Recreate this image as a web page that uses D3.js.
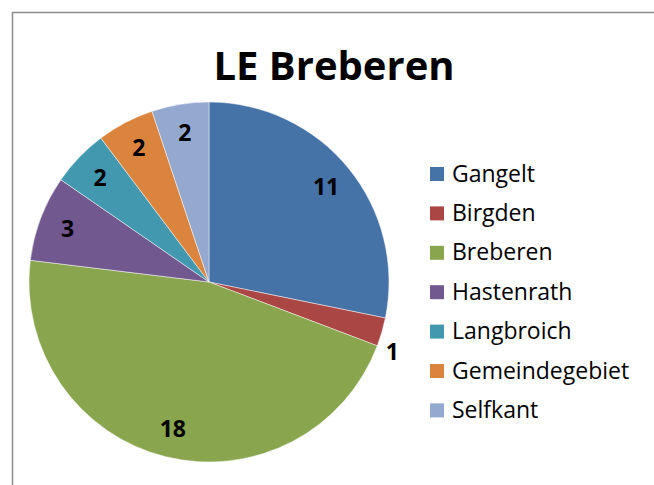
<!DOCTYPE html>
<html>
<head>
<meta charset="utf-8">
<script src="https://cdn.jsdelivr.net/npm/d3@7"></script>
<style>
  body { margin: 0; background: #fff; }
  svg { display: block; }
</style>
</head>
<body>
<div id="chart"></div>
<script>
// places and counts
var places = ["Gangelt", "Birgden", "Breberen", "Hastenrath", "Langbroich", "Gemeindegebiet", "Selfkant"];
var counts = [11, 1, 18, 3, 2, 2, 2];
var colours = ["#4572A7", "#AA4643", "#89A54E", "#71588F", "#4198AF", "#DB843D", "#93A9CF"];

var width = 654, height = 485;
var cx = 209, cy = 282, radius = 180;

var svg = d3.select("#chart")
    .append("svg")
    .attr("width", width)
    .attr("height", height);

svg.append("rect")
    .attr("width", width)
    .attr("height", height)
    .attr("fill", "#fff");

// chart frame, runs off the right and bottom edge
svg.append("rect")
    .attr("x", 12.5)
    .attr("y", 12.5)
    .attr("width", 700)
    .attr("height", 600)
    .attr("fill", "none")
    .attr("stroke", "#8c8c8c")
    .attr("stroke-width", 1.5);

svg.append("text")
    .attr("x", 334)
    .attr("y", 80)
    .attr("text-anchor", "middle")
    .style("font-family", "'Open Sans', sans-serif")
    .style("font-weight", "bold")
    .style("font-size", "40px")
    .style("fill", "#000")
    .text("LE Breberen");

var data = places.map(function(p, i) {
    return { name: p, value: counts[i] };
});

var color = d3.scaleOrdinal().domain(places).range(colours);

var pie = d3.pie()
    .sort(null)
    .value(function(d) { return d.value; });

var arc = d3.arc().innerRadius(0).outerRadius(radius);

var arcs = pie(data);

var g = svg.append("g")
    .attr("transform", "translate(" + cx + "," + cy + ")");

g.selectAll("path")
    .data(arcs)
    .enter().append("path")
    .attr("d", arc)
    .attr("fill", function(d) { return color(d.data.name); })
    .attr("stroke", "#fff")
    .attr("stroke-opacity", 0.6)
    .attr("stroke-width", 0.8);

// labels inside the slice, the tiny one goes outside near its lower end
g.selectAll("text")
    .data(arcs)
    .enter().append("text")
    .attr("transform", function(d) {
        var a, r;
        if (d.value < 2) {
            a = d.endAngle;
            r = radius * 1.09;
        } else {
            a = (d.startAngle + d.endAngle) / 2;
            r = radius * 0.84;
        }
        return "translate(" + (r * Math.sin(a)) + "," + (-r * Math.cos(a)) + ")";
    })
    .attr("dy", "0.36em")
    .attr("text-anchor", "middle")
    .style("font-family", "'Open Sans', sans-serif")
    .style("font-weight", "bold")
    .style("font-size", "23px")
    .style("fill", "#000")
    .text(function(d) { return d.value; });

// legend
var legend = svg.append("g")
    .attr("transform", "translate(430,167)");

var row = legend.selectAll("g")
    .data(places)
    .enter().append("g")
    .attr("transform", function(d, i) { return "translate(0," + (i * 39.4) + ")"; });

row.append("rect")
    .attr("width", 14)
    .attr("height", 14)
    .attr("fill", function(d) { return color(d); });

row.append("text")
    .attr("x", 22)
    .attr("y", 14.5)
    .style("font-family", "'Open Sans', sans-serif")
    .style("font-size", "23px")
    .style("fill", "#000")
    .text(function(d) { return d; });
</script>
</body>
</html>
